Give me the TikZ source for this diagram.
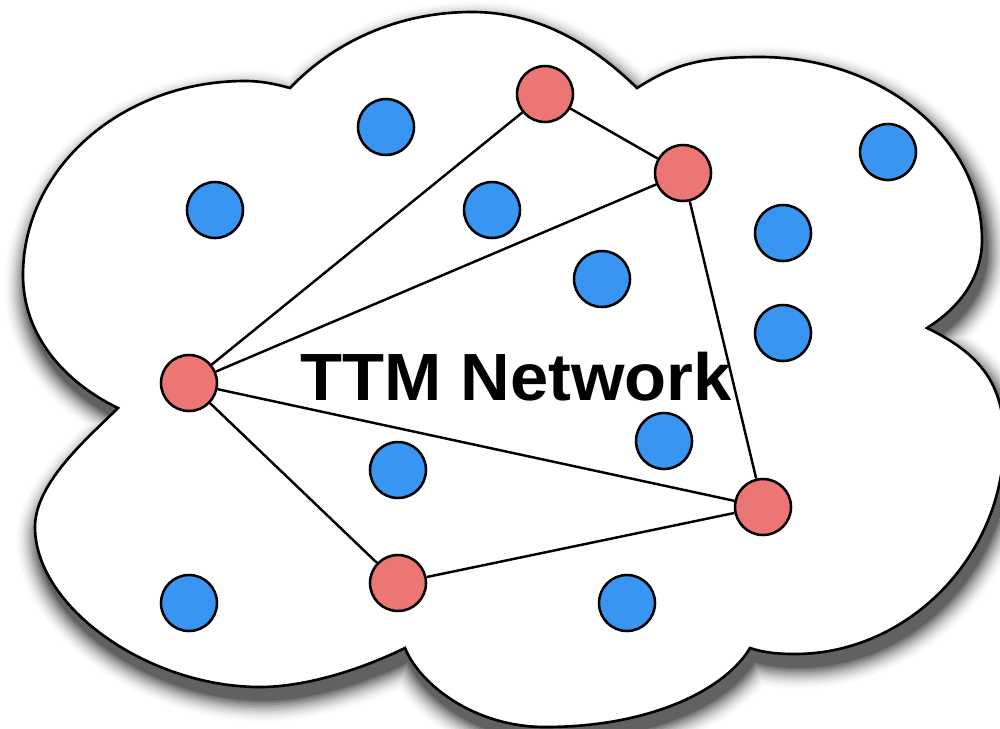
\documentclass[tikz,border=0pt]{standalone}
\usepackage{fontspec}
\setmainfont{Liberation Sans}
\definecolor{nodeblue}{RGB}{56,149,242}
\definecolor{nodered}{RGB}{236,118,116}
\newcommand\cloudpath{(290,88)
.. controls (337,39) and (402,12) .. (472,12)
.. controls (537,12) and (591,43) .. (637,88)
.. controls (675,64) and (700,57) .. (760,57)
.. controls (883,57) and (982,139) .. (982,240)
.. controls (982,280) and (957,309) .. (927,328)
.. controls (981,354) and (1004,385) .. (1004,440)
.. controls (1004,556) and (908,654) .. (795,654)
.. controls (775,654) and (762,652) .. (750,648)
.. controls (727,687) and (655,727) .. (545,727)
.. controls (475,727) and (420,685) .. (405,648)
.. controls (360,670) and (305,687) .. (260,687)
.. controls (148,687) and (35,607) .. (35,527)
.. controls (35,482) and (90,436) .. (118,408)
.. controls (64,382) and (23,335) .. (23,275)
.. controls (23,168) and (122,81) .. (245,81)
.. controls (262,81) and (275,84) .. (290,88) -- cycle}
\tikzset{
  blueball/.style={circle, fill=nodeblue, draw=black, line width=1.45pt, minimum size=1.12cm, inner sep=0pt},
  redball/.style={circle, fill=nodered, draw=black, line width=1.45pt, minimum size=1.12cm, inner sep=0pt},
  link/.style={draw=black, line width=1.4pt},
  title/.style={font=\fontsize{38}{40}\selectfont\bfseries, xscale=1.03, inner sep=0pt, anchor=base}
}
\begin{document}
\begin{tikzpicture}[x=0.02cm, y=-0.02cm]
\useasboundingbox (0,0) rectangle (1000,728);
% shadow
\foreach \i in {0,...,10} {
  \pgfmathsetmacro\w{46-4.2*\i}
  \pgfmathsetmacro\c{62*((\i+1)/11)^1.7}
  \path[fill=black!\c, draw=black!\c, line width=\w*0.02cm, line join=round, shift={(4,12)}] \cloudpath;
}
% cloud
\path[fill=white, draw=black, line width=1.5pt, line join=miter] \cloudpath;
% nodes
\node[redball] (r1) at (545,94) {};
\node[redball] (r2) at (683,173) {};
\node[redball] (r3) at (189,383) {};
\node[redball] (r4) at (398,583) {};
\node[redball] (r5) at (763,507) {};
\node[blueball] (b1) at (386,127) {};
\node[blueball] (b2) at (215,210) {};
\node[blueball] (b3) at (492,210) {};
\node[blueball] (b4) at (888,152) {};
\node[blueball] (b5) at (783,233) {};
\node[blueball] (b6) at (602,279) {};
\node[blueball] (b7) at (783,333) {};
\node[blueball] (b8) at (664,441) {};
\node[blueball] (b9) at (398,470) {};
\node[blueball] (b10) at (189,603) {};
\node[blueball] (b11) at (627,603) {};
% links
\draw[link] (r3) -- (r1);
\draw[link] (r3) -- (r2);
\draw[link] (r1) -- (r2);
\draw[link] (r2) -- (r5);
\draw[link] (r3) -- (r5);
\draw[link] (r3) -- (r4);
\draw[link] (r4) -- (r5);
% label
\node[title] (lbl) at (516,400) {TTM Network};
\end{tikzpicture}
\end{document}
